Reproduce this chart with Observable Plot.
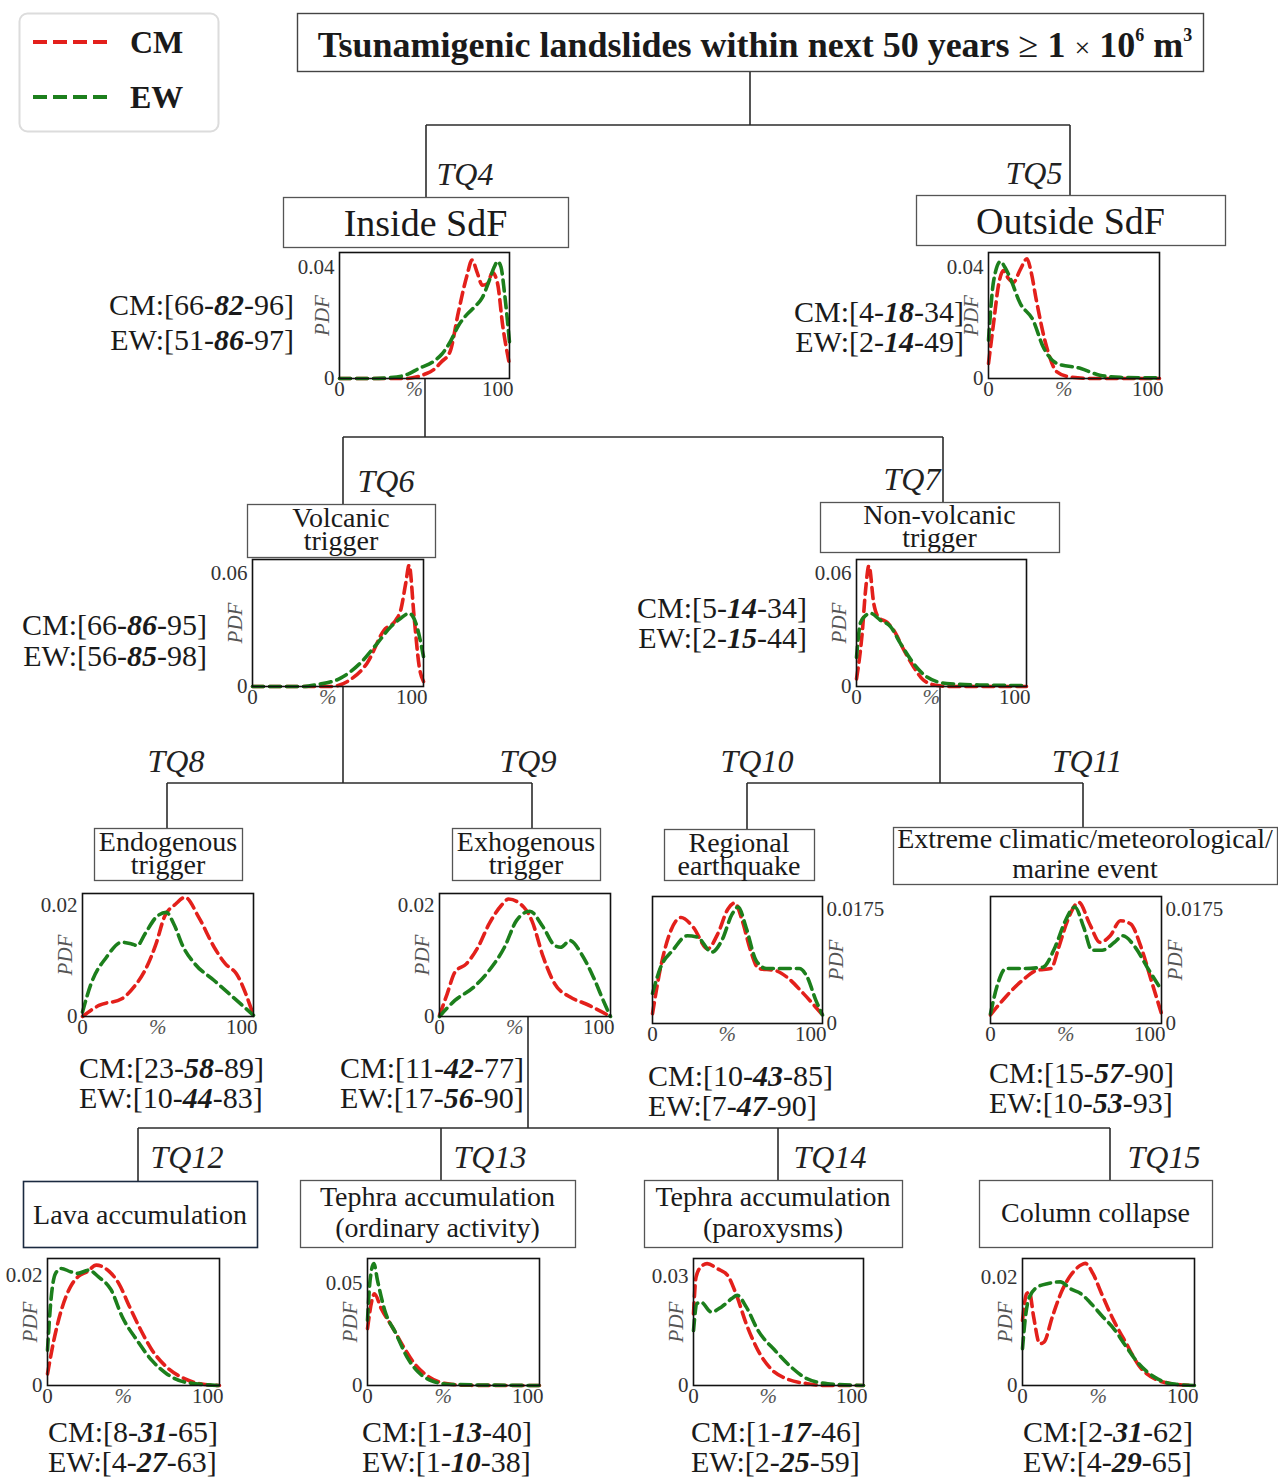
<!DOCTYPE html>
<html><head><meta charset="utf-8">
<script src="https://cdn.jsdelivr.net/npm/d3@7"></script>
<script src="https://cdn.jsdelivr.net/npm/@observablehq/plot@0.6"></script>
<style>
body{margin:0;background:#fff;}
#page{position:relative;width:1278px;height:1478px;overflow:hidden;font-family:'Liberation Serif','Times New Roman',serif;color:#1a1a1a;background:#fff;}
.chart{position:absolute;}
.rng{position:absolute;font-size:30px;white-space:nowrap;}
.rng b{font-style:italic;font-weight:bold;}
</style></head><body><div id="page"></div>
<script>
// ---------- DATA ----------
const chartIds = ["TQ4","TQ5","TQ6","TQ7","TQ8","TQ9","TQ10","TQ11","TQ12","TQ13","TQ14","TQ15"];
const nodeNames = [["Inside SdF"],["Outside SdF"],["Volcanic","trigger"],["Non-volcanic","trigger"],["Endogenous","trigger"],["Exhogenous","trigger"],["Regional","earthquake"],["Extreme climatic/meteorological/","marine event"],["Lava accumulation"],["Tephra accumulation","(ordinary activity)"],["Tephra accumulation","(paroxysms)"],["Column collapse"]];
const cmRanges = [[66,82,96],[4,18,34],[66,86,95],[5,14,34],[23,58,89],[11,42,77],[10,43,85],[15,57,90],[8,31,65],[1,13,40],[1,17,46],[2,31,62]];
const ewRanges = [[51,86,97],[2,14,49],[56,85,98],[2,15,44],[10,44,83],[17,56,90],[7,47,90],[10,53,93],[4,27,63],[1,10,38],[2,25,59],[4,29,65]];
const yTopTick = [0.04,0.04,0.06,0.06,0.02,0.02,0.0175,0.0175,0.02,0.05,0.03,0.02];
const xTicks = [0,100];
const titleText = "Tsunamigenic landslides within next 50 years";
const legendKeys = ["CM","EW"];

// PDF curves, [percent, pdf]
const TQ4_CM = [[0,0],[20,0],[40,0],[45,0.0005],[50,0.0015],[55,0.003],[60,0.006],[65,0.0096],[70,0.024],[75,0.037],[78,0.0425],[81,0.038],[84,0.0335],[87,0.034],[90,0.038],[93,0.034],[96,0.019],[100,0.005]];
const TQ4_EW = [[0,0],[20,0],[30,0.0003],[40,0.0015],[47,0.0037],[55,0.006],[60,0.0086],[65,0.013],[70,0.019],[75,0.023],[80,0.026],[84,0.029],[88,0.035],[91,0.040],[93,0.042],[95,0.040],[97,0.031],[100,0.013]];
const TQ5_CM = [[0,0.0054],[3,0.02],[6,0.034],[8.8,0.0387],[11.5,0.036],[14.6,0.0345],[18.5,0.039],[22.5,0.0429],[25,0.038],[28,0.028],[34,0.0113],[40,0.0024],[48,0.0005],[60,0],[100,0]];
const TQ5_EW = [[0,0.0137],[3,0.035],[7,0.042],[9.5,0.040],[12.7,0.036],[18.5,0.027],[26,0.021],[32,0.0113],[40,0.0054],[54,0.0036],[65,0.0012],[77,0.0004],[100,0.0002]];
const TQ6_CM = [[0,0],[30,0],[45.6,0],[57,0.0035],[67,0.0123],[77,0.0298],[83.8,0.035],[86.7,0.0404],[89.6,0.0544],[91.6,0.064],[94.5,0.0368],[97.5,0.0105],[100,0.0026]];
const TQ6_EW = [[0,0],[30,0],[37.8,0.001],[51.5,0.0044],[63,0.0123],[73,0.0228],[81,0.0316],[86.7,0.036],[91.6,0.0386],[95.5,0.0335],[100,0.0158]];
const TQ7_CM = [[0,0.004],[3.3,0.0277],[5.3,0.0505],[7.3,0.0637],[10.2,0.0435],[13,0.0365],[18,0.0338],[22,0.0295],[28,0.019],[33.7,0.0102],[39.6,0.0032],[47.5,0.0005],[55,0],[100,0]];
const TQ7_EW = [[0,0.0154],[2.4,0.0338],[5.3,0.0374],[8.2,0.0386],[14,0.035],[20,0.0316],[26,0.0225],[33.7,0.012],[41.5,0.005],[53,0.0016],[73,0.0008],[100,0.0005]];
const TQ8_CM = [[0,0],[9.6,0.002],[23,0.0032],[30,0.0053],[36.5,0.0083],[43,0.0131],[47.8,0.0179],[54.5,0.0203],[60,0.0215],[68,0.0179],[77,0.0125],[83.6,0.0095],[90,0.0077],[100,0.0002]];
const TQ8_EW = [[0,0.0008],[5,0.0059],[14,0.0107],[23,0.0134],[28.7,0.0131],[32,0.0128],[36.5,0.0149],[43,0.0179],[49,0.0188],[53.4,0.0167],[59,0.0125],[65.7,0.0095],[77,0.0065],[88,0.0035],[100,0.0002]];
const TQ9_CM = [[0,0.0002],[4.5,0.0041],[9,0.008],[15.7,0.0095],[22.5,0.0125],[29,0.0167],[36,0.02],[40.4,0.0212],[49.4,0.0197],[54,0.0173],[60.7,0.0107],[67.4,0.0059],[76.4,0.0035],[85.4,0.0023],[100,0]];
const TQ9_EW = [[0,0],[9,0.0029],[20,0.0053],[29,0.0083],[38,0.0125],[45,0.0173],[52.8,0.019],[60.7,0.0161],[67.4,0.0128],[70.8,0.0125],[76.4,0.0137],[83,0.0113],[90,0.0071],[96.6,0.0023],[100,0]];
const TQ10_CM = [[0,0.0015],[4.8,0.0086],[10.8,0.0142],[16.8,0.0162],[24,0.0147],[32.4,0.0114],[38.4,0.0137],[44.4,0.0175],[48.4,0.0184],[52.8,0.0157],[57.6,0.0112],[62.4,0.0084],[72,0.0081],[79,0.0071],[88.7,0.0046],[100,0.0013]];
const TQ10_EW = [[0,0.0046],[4.8,0.0086],[12,0.0112],[20.4,0.0134],[26.4,0.0132],[34.8,0.0109],[40.8,0.0127],[46.8,0.0167],[50.4,0.0178],[55,0.0147],[61,0.0096],[67,0.0084],[76.7,0.0084],[86.3,0.0084],[91,0.0071],[96,0.0036],[100,0.0013]];
const TQ11_CM = [[0,0.0013],[9,0.0041],[18.7,0.0066],[27,0.0081],[35.4,0.0084],[40,0.0117],[45,0.0157],[51.7,0.0185],[58,0.0152],[64,0.0124],[70,0.0134],[76,0.0157],[82,0.0152],[88,0.0117],[94,0.0066],[100,0.0015]];
const TQ11_EW = [[0,0.0015],[4.3,0.0061],[9,0.0084],[18.7,0.0084],[30.6,0.0086],[37.8,0.0117],[43.8,0.0157],[49.3,0.0178],[54.5,0.0147],[59.3,0.0112],[65.3,0.0112],[72.5,0.0124],[77.3,0.0134],[84.5,0.0117],[91.6,0.0086],[100,0.0051]];
const TQ12_CM = [[0,0.0021],[3.7,0.0082],[8,0.0136],[13.4,0.0179],[17.7,0.0197],[23,0.0206],[28.4,0.0218],[35,0.0209],[41.4,0.0185],[47.8,0.0142],[54.3,0.01],[60.8,0.0064],[69.4,0.0033],[80,0.0012],[88.8,0.0003],[100,0]];
const TQ12_EW = [[0,0.0064],[2,0.0155],[4.7,0.0203],[8,0.0212],[13.4,0.0206],[17.7,0.0203],[24,0.0209],[29.5,0.0197],[37,0.0173],[43.5,0.0124],[52,0.0082],[60.8,0.0045],[69.4,0.0021],[80,0.0006],[100,0]];
const TQ13_CM = [[0,0.0279],[2.6,0.0418],[4,0.045],[8,0.0377],[14.4,0.0287],[21,0.0189],[27.3,0.0107],[36,0.0041],[44.5,0.0011],[57,0.0001],[100,0]];
const TQ13_EW = [[0,0.032],[1.5,0.0516],[3.7,0.0598],[5.8,0.0516],[10,0.0369],[16.6,0.0254],[23,0.0139],[29.5,0.0066],[38,0.0021],[48.8,0.0005],[100,0]];
const TQ14_CM = [[0,0.0197],[1.5,0.0298],[4.4,0.0326],[8,0.0335],[14,0.0321],[20,0.0303],[25,0.0252],[31,0.017],[38,0.0096],[45.5,0.0046],[55,0.0018],[67,0.0005],[77,0],[100,0]];
const TQ14_EW = [[0,0.0151],[2,0.0225],[4.4,0.0229],[10.4,0.0202],[16.5,0.0216],[22.5,0.0239],[25.7,0.0248],[31,0.0216],[38,0.0151],[48,0.0096],[57.6,0.005],[67,0.0018],[79,0.0005],[100,0]];
const TQ15_CM = [[0,0.012],[2.4,0.0169],[4,0.0172],[6.5,0.0126],[10,0.0077],[12.5,0.008],[17.3,0.0126],[23,0.0175],[28,0.0203],[34,0.0222],[36.5,0.0225],[41,0.0206],[46,0.0169],[53,0.012],[60.4,0.0077],[67.6,0.0037],[77,0.0012],[87,0.0003],[100,0]];
const TQ15_EW = [[0,0.0068],[1.7,0.0126],[4,0.0163],[9,0.0182],[15,0.0188],[22,0.0191],[28,0.0178],[34,0.0169],[39,0.0154],[46,0.0129],[53,0.0105],[60.4,0.0071],[67.6,0.004],[77,0.0015],[87,0.0003],[100,0]];

const cmCurves = [TQ4_CM,TQ5_CM,TQ6_CM,TQ7_CM,TQ8_CM,TQ9_CM,TQ10_CM,TQ11_CM,TQ12_CM,TQ13_CM,TQ14_CM,TQ15_CM];
const ewCurves = [TQ4_EW,TQ5_EW,TQ6_EW,TQ7_EW,TQ8_EW,TQ9_EW,TQ10_EW,TQ11_EW,TQ12_EW,TQ13_EW,TQ14_EW,TQ15_EW];

// ---------- LAYOUT / STYLE ----------
const CM_COLOR = "#e3201b", EW_COLOR = "#1c7f1c";
const frames = [[339,252,170,126],[988,252,171,126],[252,559,171,127],[856,559,170,127],[82,893,171,123],[439,893,171,123],[652,896,170,127],[990,896,171,127],[47,1258,172,127],[367,1258,172,127],[693,1258,170,127],[1022,1258,172,127]];
const yMax = [0.0452,0.0452,0.067,0.067,0.0222,0.0222,0.0194,0.0194,0.023,0.0623,0.0349,0.0234];
const axisSide = ["left","left","left","left","left","left","right","right","left","left","left","left"];
const rangePos = [
  {right:294,y:304,lh:35},{right:964,y:312,lh:30},{right:207,y:624,lh:31},{right:807,y:608,lh:30},
  {left:79,y:1068,lh:30},{left:340,y:1068,lh:30},{left:648,y:1076,lh:30},{left:989,y:1073,lh:30},
  {left:48,y:1432,lh:30},{left:362,y:1432,lh:30},{left:691,y:1432,lh:30},{left:1023,y:1432,lh:30}];
const tqPos = [[465,185],[1034,184],[386,492],[912,490],[176,772],[528,772],[757,772],[1087,772],[187,1168],[490,1168],[830,1168],[1164,1168]];
const boxes = [
 {x1:283,y1:197,x2:568,y2:247,fs:38,base:[236]},
 {x1:916,y1:195,x2:1225,y2:245,fs:38,base:[234]},
 {x1:247,y1:504,x2:435,y2:557,fs:28,base:[527,550]},
 {x1:820,y1:502,x2:1059,y2:552,fs:28,base:[524,547]},
 {x1:94,y1:828,x2:242,y2:880,fs:28,base:[851,874]},
 {x1:452,y1:828,x2:600,y2:880,fs:28,base:[851,874]},
 {x1:664,y1:829,x2:814,y2:880,fs:28,base:[852,875]},
 {x1:893,y1:827,x2:1277,y2:884,fs:28,base:[848,878]},
 {x1:23,y1:1181,x2:257,y2:1247,fs:28,base:[1224],stroke:"#1b2a40"},
 {x1:300,y1:1180,x2:575,y2:1247,fs:28,base:[1206,1237]},
 {x1:644,y1:1180,x2:902,y2:1247,fs:28,base:[1206,1237]},
 {x1:979,y1:1180,x2:1212,y2:1247,fs:28,base:[1222]}];
const treeSegs = [
 [750,71,750,125],[426,125,1070,125],[426,125,426,197],[1070,125,1070,195],
 [425,378,425,437],[343,437,943,437],[343,437,343,504],[943,437,943,502],
 [343,686,343,783],[167,783,532,783],[167,783,167,828],[532,783,532,828],
 [940,686,940,783],[747,783,1083,783],[747,783,747,829],[1083,783,1083,827],
 [528,1016,528,1128],[138,1128,1110,1128],[138,1128,138,1181],[441,1128,441,1180],[778,1128,778,1180],[1110,1128,1110,1180]];

const page = d3.select("#page");
const FONT = "'Liberation Serif','Times New Roman',serif";

// ---------- overlay: tree, boxes, title, legend ----------
const svg = page.append("svg").attr("width",1278).attr("height",1478)
  .style("position","absolute").style("left","0px").style("top","0px")
  .attr("font-family",FONT);
svg.selectAll("line.tree").data(treeSegs).join("line").attr("class","tree")
  .attr("x1",d=>d[0]).attr("y1",d=>d[1]).attr("x2",d=>d[2]).attr("y2",d=>d[3])
  .attr("stroke","#2b2b2b").attr("stroke-width",1.6);
boxes.forEach((b,i)=>{
  svg.append("rect").attr("x",b.x1+0.5).attr("y",b.y1+0.5).attr("width",b.x2-b.x1).attr("height",b.y2-b.y1)
    .attr("fill","#fff").attr("stroke",b.stroke||"#555").attr("stroke-width",b.stroke?1.6:1.3);
  nodeNames[i].forEach((t,k)=>{
    svg.append("text").attr("x",(b.x1+b.x2)/2).attr("y",b.base[k]).attr("text-anchor","middle")
      .attr("font-size",b.fs).attr("fill","#1a1a1a").text(t);
  });
});
chartIds.forEach((id,i)=>{
  svg.append("text").attr("x",tqPos[i][0]).attr("y",tqPos[i][1]).attr("text-anchor","middle")
    .attr("font-size",32).attr("font-style","italic").attr("fill","#222").text(id);
});
// title
svg.append("rect").attr("x",297.5).attr("y",13.5).attr("width",906).attr("height",58)
  .attr("fill","#fff").attr("stroke","#444").attr("stroke-width",1.4);
const tt = svg.append("text").attr("x",755).attr("y",57).attr("text-anchor","middle")
  .attr("font-size",36).attr("font-weight","bold").attr("fill","#1a1a1a");
tt.append("tspan").text(titleText + " ");
tt.append("tspan").attr("font-weight","normal").text("\u2265");
tt.append("tspan").text(" 1 ");
tt.append("tspan").attr("font-weight","normal").attr("font-size",28).text("\u00d7");
tt.append("tspan").text(" 10");
tt.append("tspan").attr("font-size",18).attr("dy",-16).text("6");
tt.append("tspan").attr("dy",16).text(" m");
tt.append("tspan").attr("font-size",18).attr("dy",-16).text("3");
// legend
svg.append("rect").attr("x",19.5).attr("y",13.5).attr("width",199).attr("height",118).attr("rx",8)
  .attr("fill","#fff").attr("stroke","#dcdcdc").attr("stroke-width",2);
legendKeys.forEach((k,i)=>{
  const y = 42 + i*55;
  svg.append("line").attr("x1",33).attr("x2",112).attr("y1",y).attr("y2",y)
    .attr("stroke",i===0?CM_COLOR:EW_COLOR).attr("stroke-width",4).attr("stroke-dasharray","14,6");
  svg.append("text").attr("x",130).attr("y",y+11).attr("font-size",32).attr("font-weight","bold")
    .attr("fill","#1a1a1a").text(k);
});

// ---------- PDF charts (Observable Plot) ----------
const ML = 55, MR = 75, MT = 12, MB = 34;
function pdfChart(i){
  const [fx,fy,fw,fh] = frames[i];
  const side = axisSide[i];
  const cm = cmCurves[i].map(([x,y])=>({x,y}));
  const ew = ewCurves[i].map(([x,y])=>({x,y}));
  const lineOpts = {x:"x",y:"y",strokeWidth:3.6,strokeDasharray:"11,6",curve:"monotone-x"};
  const plot = Plot.plot({
    width: fw+ML+MR, height: fh+MT+MB,
    marginLeft: ML, marginRight: MR, marginTop: MT, marginBottom: MB,
    x: {domain:[0,100], axis:null},
    y: {domain:[0,yMax[i]], axis:null},
    style: {fontFamily: FONT, fontSize:"21px", color:"#333", background:"transparent", overflow:"visible"},
    marks: [
      Plot.line(cm, {...lineOpts, stroke: CM_COLOR}),
      Plot.line(ew, {...lineOpts, stroke: EW_COLOR}),
      Plot.frame({stroke:"#111", strokeWidth:1.6}),
      Plot.text([0, yTopTick[i]], {y:d=>d, text:d=>String(d), frameAnchor:side,
        textAnchor: side==="left"?"end":"start", dx: side==="left"?-5:4, fontSize:21, fill:"#333"}),
      Plot.text([xTicks[0]], {x:d=>d, text:d=>String(d), frameAnchor:"bottom", textAnchor:"middle", lineAnchor:"top", dy:3, fontSize:21, fill:"#333"}),
      Plot.text([xTicks[1]], {x:d=>d, text:d=>String(d), frameAnchor:"bottom", lineAnchor:"top", textAnchor:"end", dx:4, dy:3, fontSize:21, fill:"#333"}),
      Plot.text([{x:44,t:"%"}], {x:"x", text:"t", frameAnchor:"bottom", textAnchor:"middle", lineAnchor:"top", dy:3, fontSize:21, fontStyle:"italic", fill:"#555"}),
      Plot.text(["PDF"], {text:d=>d, frameAnchor:side, textAnchor:"middle", lineAnchor:"middle", rotate:-90, dx: side==="left"?-17:14, fontSize:21, fontStyle:"italic", fill:"#555"})
    ]
  });
  plot.classList.add("chart");
  plot.style.left = (fx-ML)+"px";
  plot.style.top = (fy-MT)+"px";
  plot.style.maxWidth = "none";
  page.node().appendChild(plot);
}
chartIds.forEach((id,i)=>pdfChart(i));

// ---------- CM / EW range labels ----------
function rangeHtml(name, r){ return `${name}:[${r[0]}-<b>${r[1]}</b>-${r[2]}]`; }
rangePos.forEach((p,i)=>{
  const div = page.append("div").attr("class","rng")
    .style("top",(p.y - p.lh/2)+"px").style("line-height",p.lh+"px");
  if (p.right !== undefined) div.style("right",(1278-p.right)+"px").style("text-align","right");
  else div.style("left",p.left+"px");
  div.html(rangeHtml("CM",cmRanges[i]) + "<br>" + rangeHtml("EW",ewRanges[i]));
});
</script></body></html>
